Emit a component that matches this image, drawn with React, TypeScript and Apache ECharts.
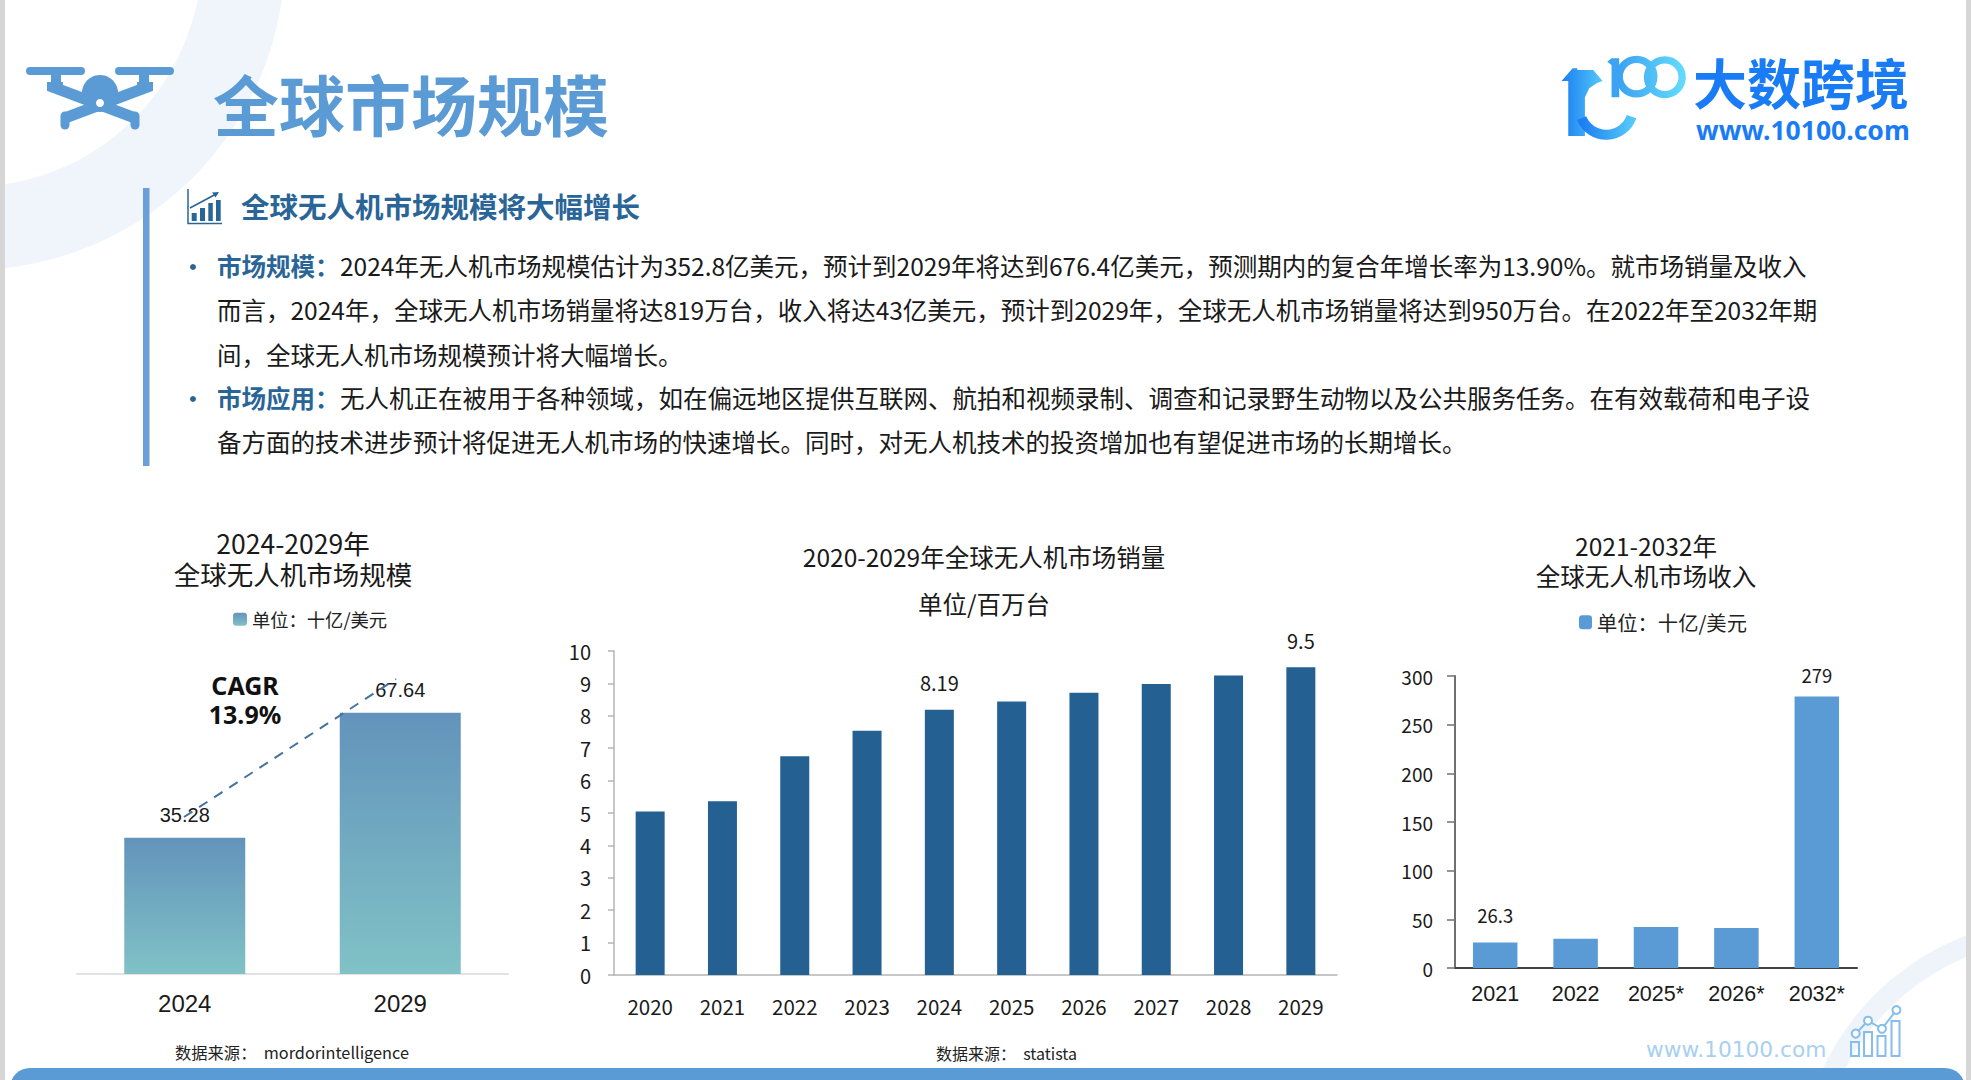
import React, { useEffect, useRef } from "react";
import * as echarts from "echarts";

const CJK = "Noto Sans CJK SC";
const ARIAL = "Liberation Sans";

const sizeYears = ["2024", "2029"];
const sizeValues = [35.28, 67.64];
const salesYears = ["2020", "2021", "2022", "2023", "2024", "2025", "2026", "2027", "2028", "2029"];
const salesValues = [5.05, 5.36, 6.75, 7.54, 8.19, 8.44, 8.71, 8.98, 9.24, 9.5];
const salesLabelled = ["2024", "2029"];
const revenueYears = ["2021", "2022", "2025*", "2026*", "2032*"];
const revenueValues = [26.3, 30.1, 42.2, 41.1, 279];
const revenueLabelled = ["2021", "2032*"];

const unitName = "单位：十亿/美元";
const bodyLines = [
  { x: 340, y: 265, t: "2024年无人机市场规模估计为352.8亿美元，预计到2029年将达到676.4亿美元，预测期内的复合年增长率为13.90%。就市场销量及收入" },
  { x: 217, y: 309, t: "而言，2024年，全球无人机市场销量将达819万台，收入将达43亿美元，预计到2029年，全球无人机市场销量将达到950万台。在2022年至2032年期" },
  { x: 217, y: 354, t: "间，全球无人机市场规模预计将大幅增长。" },
  { x: 340, y: 397, t: "无人机正在被用于各种领域，如在偏远地区提供互联网、航拍和视频录制、调查和记录野生动物以及公共服务任务。在有效载荷和电子设" },
  { x: 217, y: 441, t: "备方面的技术进步预计将促进无人机市场的快速增长。同时，对无人机技术的投资增加也有望促进市场的长期增长。" },
];

echarts.graphic.registerShape("logoSolid", echarts.graphic.extendPath(
  "M205 348 L205 183 L185 183 L218 145 L232 145 L232 150 L280 150 L308 183 L290 190 L268 205 L255 232 L255 348 Z", {}));
echarts.graphic.registerShape("logoOne", echarts.graphic.extendPath(
  "M322 125 L335 115 L358 115 L358 232 L335 232 L335 135 Z", {}));
echarts.graphic.registerShape("logoC", echarts.graphic.extendPath(
  "M245 295 A80 80 0 0 0 395 290", {}));
echarts.graphic.registerShape("logoRings", echarts.graphic.extendPath(
  "M358 170 A52 52 0 1 1 462 170 A52 52 0 1 1 358 170 Z M443 172 A52 52 0 1 1 547 172 A52 52 0 1 1 443 172 Z", {}));

const txt = (x: number, y: number, text: string, fontSize: number, fill: string, extra: any = {}) => ({
  type: "text",
  x,
  y,
  silent: true,
  style: {
    text,
    fontSize,
    fill,
    fontFamily: CJK,
    textVerticalAlign: "middle",
    verticalAlign: "middle",
    ...extra,
  },
});

const rect = (x: number, y: number, width: number, height: number, fill: string, r = 0) => ({
  type: "rect",
  shape: { x, y, width, height, r },
  silent: true,
  style: { fill },
});

const outline = (x: number, y: number, w: number, h: number, stroke: string) => ({
  type: "rect",
  shape: { x, y, width: w, height: h },
  silent: true,
  style: { fill: "none", stroke, lineWidth: 2 },
});

const stroke = (x1: number, y1: number, x2: number, y2: number, color: string, lineWidth: number, lineCap = "butt") => ({
  type: "line",
  silent: true,
  shape: { x1, y1, x2, y2 },
  style: { stroke: color, lineWidth, lineCap },
});

const buildGraphic = () => {
  const heading = "#2a6597";
  const titleBlue = "#5b9bd5";
  const logoGrad = {
    type: "linear", x: 0, y: 0, x2: 1, y2: 0,
    colorStops: [{ offset: 0, color: "#1b7ef2" }, { offset: 1, color: "#54c8f8" }],
  };
  const ringGrad = {
    type: "linear", x: 0, y: 0, x2: 1, y2: 0,
    colorStops: [{ offset: 0, color: "#3ba3f2" }, { offset: 1, color: "#62d9fb" }],
  };
  const iconBlue = "#86bdec";
  const iconPts = [[1855.7, 1033.6], [1868, 1020.7], [1882, 1028.8], [1896.4, 1010]];
  const scale = { x: 1500, y: 20, scaleX: 1 / 3, scaleY: 1 / 3 };
  return [
    { type: "ring", silent: true, shape: { cx: -30, cy: -45, r: 315, r0: 232 }, style: { fill: "#eff5fa" } },
    { type: "ring", silent: true, shape: { cx: 2060, cy: 1180, r: 262, r0: 242 }, style: { fill: "#eef4f9" } },
    rect(0, 0, 5, 1080, "#d6d6d6"),
    rect(1966, 0, 5, 1080, "#d6d6d6"),
    rect(10, 1068, 1955, 40, "#5b9bd5", 30),

    rect(26, 67, 59, 8, titleBlue, 4),
    rect(115, 67, 59, 8, titleBlue, 4),
    rect(51, 74, 10, 10, titleBlue),
    rect(139, 74, 10, 10, titleBlue),
    rect(47, 82, 16, 9, titleBlue),
    rect(137, 82, 16, 9, titleBlue),
    stroke(50, 86, 135, 118, titleBlue, 11),
    stroke(150, 86, 65, 118, titleBlue, 11),
    stroke(65, 116, 65, 125, titleBlue, 9, "round"),
    stroke(135, 116, 135, 125, titleBlue, 9, "round"),
    { type: "circle", silent: true, shape: { cx: 100, cy: 93, r: 18 }, style: { fill: titleBlue } },
    { type: "circle", silent: true, shape: { cx: 100, cy: 102, r: 10 }, style: { fill: titleBlue } },
    { type: "circle", silent: true, shape: { cx: 100, cy: 103, r: 4 }, style: { fill: "#ffffff" } },
    txt(213, 102, "全球市场规模", 66, titleBlue, { fontWeight: "bold" }),

    { type: "logoSolid", silent: true, ...scale, style: { fill: logoGrad } },
    { type: "logoC", silent: true, ...scale, style: { fill: "none", stroke: logoGrad, lineWidth: 30 } },
    { type: "logoOne", silent: true, ...scale, style: { fill: "#3ba3f2" } },
    { type: "logoRings", silent: true, ...scale, style: { fill: "none", stroke: ringGrad, lineWidth: 22 } },
    txt(1693, 81, "大数跨境", 54, "#1a7cf5", { fontWeight: "bold" }),
    txt(1696, 130, "www.10100.com", 26.5, "#1a7cf5", { fontWeight: "bold", fontFamily: "Noto Sans" }),

    rect(143, 188, 6.5, 278, "#6a9fd8"),
    { type: "polyline", silent: true, shape: { points: [[188, 189], [188, 223.5], [222, 223.5]] }, style: { fill: "none", stroke: heading, lineWidth: 1.5 } },
    rect(191.7, 213, 5, 8, heading),
    rect(200, 208, 5, 13, heading),
    rect(208.3, 203, 4.5, 18, heading),
    rect(216, 200, 4.7, 21, heading),
    stroke(190, 208, 217, 193.5, heading, 1.6),
    { type: "polygon", silent: true, shape: { points: [[219, 192], [212, 192.5], [215.5, 197.5]] }, style: { fill: heading } },
    txt(241, 205, "全球无人机市场规模将大幅增长", 28.5, heading, { fontWeight: "bold" }),

    { type: "circle", silent: true, shape: { cx: 193, cy: 267, r: 3 }, style: { fill: heading } },
    txt(217, 265, "市场规模：", 24.5, heading, { fontWeight: "bold" }),
    { type: "circle", silent: true, shape: { cx: 193, cy: 399, r: 3 }, style: { fill: heading } },
    txt(217, 397, "市场应用：", 24.5, heading, { fontWeight: "bold" }),
    ...bodyLines.map((l) => txt(l.x, l.y, l.t, 24.5, "#1a1a1a")),

    txt(245, 685, "CAGR", 25, "#111111", { fontWeight: "bold", fontFamily: "Noto Sans", textAlign: "center", align: "center" }),
    txt(245, 714, "13.9%", 25, "#111111", { fontWeight: "bold", fontFamily: "Noto Sans", textAlign: "center", align: "center" }),
    { type: "line", silent: true, z: 5, shape: { x1: 184, y1: 817, x2: 396, y2: 679 }, style: { stroke: "#44749e", lineWidth: 2, lineDash: [10, 8] } },

    txt(175, 1052, "数据来源：  mordorintelligence", 16.3, "#222222"),
    txt(936, 1053, "数据来源：  statista", 16, "#222222"),

    txt(1646, 1049, "www.10100.com", 21.7, "#a8d0f0", { fontFamily: "DejaVu Sans" }),
    outline(1851, 1042, 8, 14, iconBlue),
    outline(1864, 1032, 8, 24, iconBlue),
    outline(1877.5, 1036, 8, 20, iconBlue),
    outline(1891.5, 1021, 8, 35, iconBlue),
    { type: "polyline", silent: true, shape: { points: iconPts }, style: { fill: "none", stroke: iconBlue, lineWidth: 2 } },
    ...iconPts.map(([cx, cy]) => ({ type: "circle", silent: true, shape: { cx, cy, r: 4 }, style: { fill: "#ffffff", stroke: iconBlue, lineWidth: 2 } })),
  ];
};

const buildOption = () => {
  const labelColor = "#1a1a1a";
  const barGradient = {
    type: "linear", x: 0, y: 0, x2: 0, y2: 1,
    colorStops: [{ offset: 0, color: "#6393bb" }, { offset: 1, color: "#80c2c6" }],
  };
  return {
    animation: false,
    backgroundColor: "#ffffff",
    textStyle: { fontFamily: CJK },
    title: [
      { text: "2024-2029年\n全球无人机市场规模", left: 288, top: 522, textAlign: "center", textStyle: { fontFamily: CJK, fontSize: 26.5, fontWeight: "normal", color: labelColor, lineHeight: 31 } },
      { text: "2020-2029年全球无人机市场销量\n单位/百万台", left: 979, top: 528, textAlign: "center", textStyle: { fontFamily: CJK, fontSize: 24.5, fontWeight: "normal", color: labelColor, lineHeight: 47 } },
      { text: "2021-2032年\n全球无人机市场收入", left: 1641, top: 526, textAlign: "center", textStyle: { fontFamily: CJK, fontSize: 24.5, fontWeight: "normal", color: labelColor, lineHeight: 29.5 } },
    ],
    legend: [
      { left: 233, top: 610, padding: 0, itemWidth: 14, itemHeight: 13, data: [{ name: unitName }], selectedMode: false, textStyle: { fontFamily: CJK, fontSize: 18.3, color: "#222222" } },
      { left: 1579, top: 612, padding: 0, itemWidth: 13, itemHeight: 14, data: [{ name: unitName, itemStyle: { color: "#5b9bd5" } }], selectedMode: false, textStyle: { fontFamily: CJK, fontSize: 20.3, color: "#222222" } },
    ],
    grid: [
      { left: 77, width: 431, top: 665, height: 309 },
      { left: 614, width: 723, top: 651, height: 324 },
      { left: 1455, width: 402, top: 676, height: 292 },
    ],
    xAxis: [
      {
        type: "category", gridIndex: 0, data: sizeYears,
        axisLine: { lineStyle: { color: "#e2e2e2", width: 2 } }, axisTick: { show: false },
        axisLabel: { fontFamily: ARIAL, fontSize: 24, color: labelColor, margin: 17 },
      },
      {
        type: "category", gridIndex: 1, data: salesYears,
        axisLine: { lineStyle: { color: "#b4b4b4", width: 1.5 } }, axisTick: { length: 8, lineStyle: { color: "#b4b4b4", width: 1.5 } },
        axisLabel: { fontFamily: CJK, fontSize: 20.5, color: labelColor, margin: 21 },
      },
      {
        type: "category", gridIndex: 2, data: revenueYears,
        axisLine: { lineStyle: { color: "#404040", width: 2 } }, axisTick: { length: 6, lineStyle: { color: "#404040", width: 2 } },
        axisLabel: { fontFamily: ARIAL, fontSize: 21.5, color: labelColor, margin: 15 },
      },
    ],
    yAxis: [
      { type: "value", gridIndex: 0, min: 0, max: 80, show: false },
      {
        type: "value", gridIndex: 1, min: 0, max: 10, interval: 1, splitLine: { show: false },
        axisLine: { show: true, lineStyle: { color: "#b4b4b4", width: 1.5 } }, axisTick: { show: true, length: 6, lineStyle: { color: "#b4b4b4", width: 1.5 } },
        axisLabel: { fontFamily: CJK, fontSize: 20, color: labelColor, margin: 23 },
      },
      {
        type: "value", gridIndex: 2, min: 0, max: 300, interval: 50, splitLine: { show: false },
        axisLine: { show: true, lineStyle: { color: "#707070", width: 2 } }, axisTick: { show: true, length: 8, lineStyle: { color: "#707070", width: 1.5 } },
        axisLabel: { fontFamily: CJK, fontSize: 19, color: labelColor, margin: 22 },
      },
    ],
    series: [
      {
        type: "bar", name: unitName, xAxisIndex: 0, yAxisIndex: 0, barWidth: 121,
        data: sizeValues, itemStyle: { color: barGradient },
        label: { show: true, position: "top", distance: 13, fontFamily: ARIAL, fontSize: 20, color: labelColor },
      },
      {
        type: "bar", name: "销量", xAxisIndex: 1, yAxisIndex: 1, barWidth: 29,
        itemStyle: { color: "#256093" },
        data: salesValues.map((value, i) => ({
          value,
          label: { show: salesLabelled.includes(salesYears[i]), position: "top", distance: 17, fontFamily: CJK, fontSize: 20, color: labelColor },
        })),
      },
      {
        type: "bar", name: unitName, xAxisIndex: 2, yAxisIndex: 2, barWidth: 44.5,
        itemStyle: { color: "#5b9bd5" },
        data: revenueValues.map((value, i) => ({
          value,
          label: {
            show: revenueLabelled.includes(revenueYears[i]), position: "top",
            distance: revenueYears[i] === "2021" ? 18 : 12,
            fontFamily: CJK, fontSize: 18.5, color: labelColor,
          },
        })),
      },
    ],
    graphic: { elements: buildGraphic() },
  };
};

export default function App() {
  const ref = useRef<HTMLDivElement | null>(null);
  useEffect(() => {
    document.body.style.margin = "0";
    document.documentElement.style.overflow = "hidden";
    const chart = echarts.init(ref.current!, undefined, { renderer: "svg" });
    chart.setOption(buildOption() as any);
    return () => chart.dispose();
  }, []);
  return <div ref={ref} style={{ width: 1971, height: 1080 }} />;
}
